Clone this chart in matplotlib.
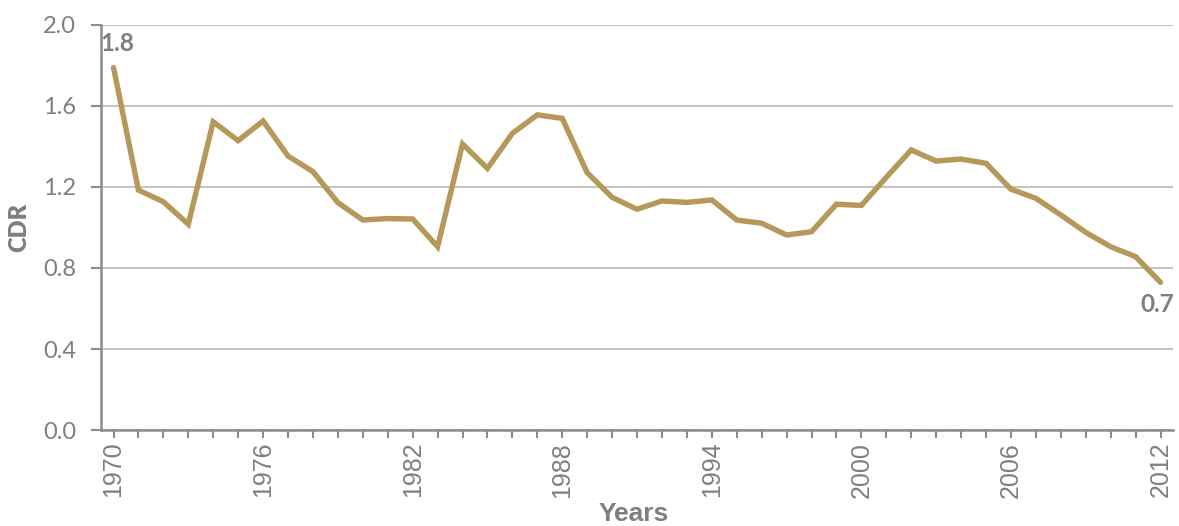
import numpy as np
import matplotlib.pyplot as plt
from matplotlib.ticker import MultipleLocator

years = list(range(1970, 2013))
cdr = [1.79, 1.185, 1.127, 1.016, 1.522, 1.429, 1.526, 1.353, 1.276, 1.123,
       1.037, 1.044, 1.042, 0.905, 1.412, 1.292, 1.465, 1.556, 1.539, 1.271,
       1.149, 1.090, 1.131, 1.124, 1.136, 1.037, 1.021, 0.963, 0.979, 1.115,
       1.109, 1.248, 1.383, 1.328, 1.338, 1.317, 1.189, 1.144, 1.062, 0.976,
       0.905, 0.856, 0.729]
y_ticks = [0.0, 0.4, 0.8, 1.2, 1.6, 2.0]
x_ticks = [1970, 1976, 1982, 1988, 1994, 2000, 2006, 2012]

gray = '#7f7f7f'
line_color = '#B5985A'

fig = plt.figure(figsize=(11.79, 5.26), dpi=100)
ax = fig.add_axes([0.0857, 0.1825, 0.9092, 0.77])

ax.plot(years, cdr, color=line_color, linewidth=3.9, solid_capstyle='round',
        solid_joinstyle='miter', zorder=3)

ax.set_xlim(1969.5, 2012.5)
ax.set_ylim(0, 2.0)
ax.set_yticks(y_ticks)
ax.set_yticklabels([f'{v:.1f}' for v in y_ticks], fontfamily='Lato',
                   fontsize=17, color=gray)
ax.set_xticks(x_ticks)
ax.set_xticklabels([str(y) for y in x_ticks], rotation=90,
                   fontfamily='Liberation Sans', fontsize=18, color=gray)
ax.xaxis.set_minor_locator(MultipleLocator(1))

ax.grid(axis='y', color='#c4c4c4', linewidth=1.5, zorder=0)
ax.set_axisbelow(True)

for side in ['top', 'right']:
    ax.spines[side].set_visible(False)
for side in ['left', 'bottom']:
    ax.spines[side].set_color('#8c8c8c')
    ax.spines[side].set_linewidth(1.8)

ax.tick_params(axis='y', which='major', length=7, width=1.5, color='#8c8c8c', pad=11)
ax.tick_params(axis='x', which='both', length=5.5, width=1.5, color='#8c8c8c', pad=3)

ax.set_ylabel('CDR', fontfamily='Lato', fontweight='heavy', fontsize=17,
              color=gray)
ax.yaxis.set_label_coords(-0.066, 0.5)
ax.set_xlabel('Years', fontfamily='Liberation Sans', fontweight='bold',
              fontsize=19, color=gray)
ax.xaxis.set_label_coords(0.497, -0.178)

ax.annotate(f'{cdr[0]:.1f}', xy=(years[0], cdr[0]), xytext=(3, 17),
            textcoords='offset points', ha='center', va='center',
            fontfamily='Lato', fontweight='bold', fontsize=17.5, color=gray)
ax.annotate(f'{cdr[-1]:.1f}', xy=(years[-1], cdr[-1]), xytext=(-2, -16),
            textcoords='offset points', ha='center', va='center',
            fontfamily='Lato', fontweight='bold', fontsize=17.5, color=gray)

plt.savefig('out.png', dpi=100)
